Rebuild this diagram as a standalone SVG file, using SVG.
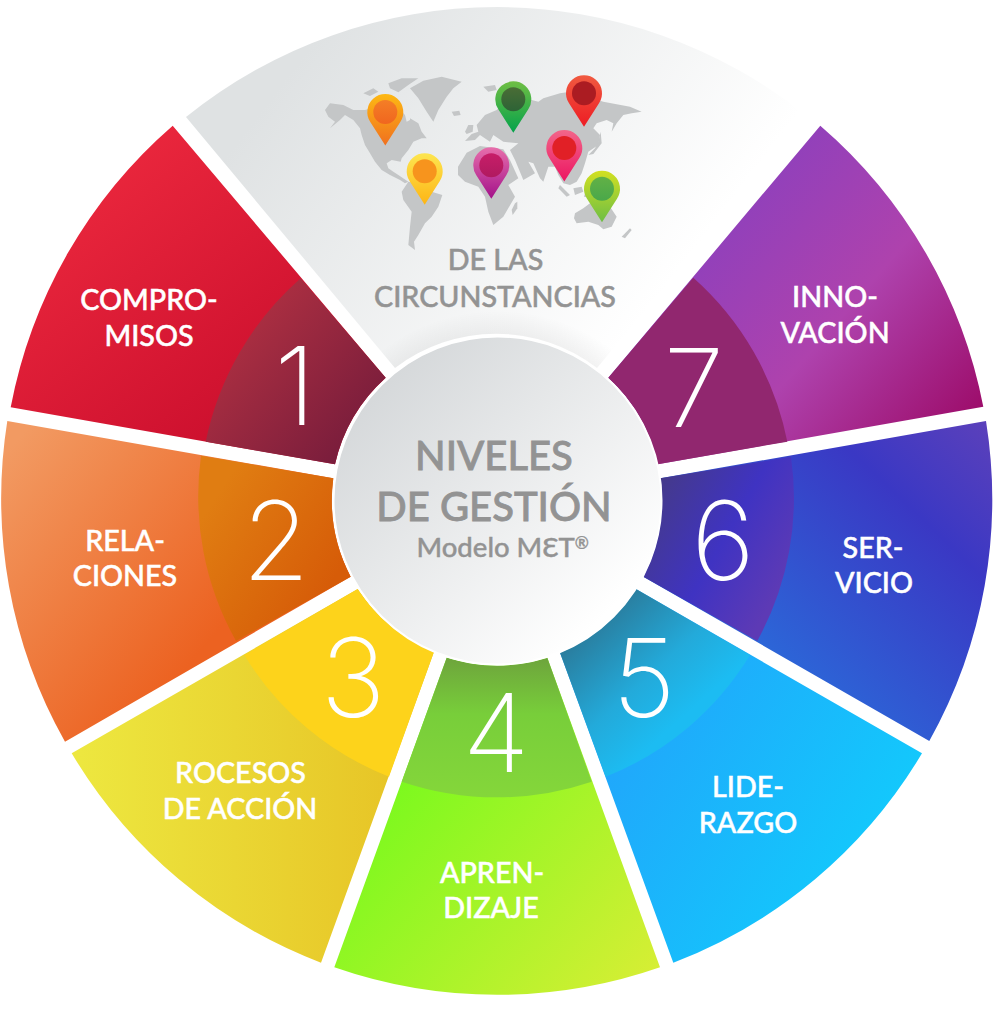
<svg xmlns="http://www.w3.org/2000/svg" width="1000" height="1009" viewBox="0 0 1000 1009">
<style>
text{font-family:Lato,"Liberation Sans","DejaVu Sans",sans-serif;text-anchor:middle}
.l{font-size:28.700px;font-weight:500;fill:#fff;stroke:#fff;stroke-width:.5px}
.g{font-size:28.700px;font-weight:500;fill:#939393;stroke:#939393;stroke-width:.5px}
.t{font-size:40px;font-weight:500;fill:#939393;stroke:#939393;stroke-width:.8px}
.m{font-size:27.500px;font-weight:500;fill:#939393;stroke:#939393;stroke-width:.4px;text-anchor:start}
.n{font-family:Inter,"Liberation Sans",sans-serif;font-size:109px;font-weight:150;fill:#fff}
.map path{fill:#c4c6c7}
</style>
<defs>
<linearGradient id="a1" gradientUnits="userSpaceOnUse" x1="110" y1="170" x2="310" y2="430"><stop offset="0" stop-color="#e9263c"/><stop offset="1" stop-color="#c80c2c"/></linearGradient>
<linearGradient id="b1" gradientUnits="userSpaceOnUse" x1="240" y1="340" x2="370" y2="450"><stop offset="0" stop-color="#a92e41"/><stop offset="1" stop-color="#741b3b"/></linearGradient>
<linearGradient id="a2" gradientUnits="userSpaceOnUse" x1="0" y1="460" x2="210" y2="640"><stop offset="0" stop-color="#f29a62"/><stop offset="1" stop-color="#ec6221"/></linearGradient>
<linearGradient id="b2" gradientUnits="userSpaceOnUse" x1="220" y1="490" x2="340" y2="570"><stop offset="0" stop-color="#e07d12"/><stop offset="1" stop-color="#d65c08"/></linearGradient>
<linearGradient id="a3" gradientUnits="userSpaceOnUse" x1="80" y1="0" x2="390" y2="0"><stop offset="0" stop-color="#ede73f"/><stop offset="1" stop-color="#e7c527"/></linearGradient>
<linearGradient id="a4" gradientUnits="userSpaceOnUse" x1="390" y1="790" x2="640" y2="1000"><stop offset="0" stop-color="#7cf91e"/><stop offset="1" stop-color="#d8ee35"/></linearGradient>
<linearGradient id="b4" gradientUnits="userSpaceOnUse" x1="0" y1="660" x2="0" y2="795"><stop offset="0" stop-color="#6ea63c"/><stop offset=".4" stop-color="#78ce3a"/><stop offset="1" stop-color="#84d63a"/></linearGradient>
<linearGradient id="a5" gradientUnits="userSpaceOnUse" x1="640" y1="720" x2="860" y2="860"><stop offset="0" stop-color="#20a8fb"/><stop offset="1" stop-color="#13c8fc"/></linearGradient>
<linearGradient id="b5" gradientUnits="userSpaceOnUse" x1="590" y1="620" x2="680" y2="720"><stop offset="0" stop-color="#2a7a9a"/><stop offset=".6" stop-color="#23aada"/><stop offset="1" stop-color="#1cbcf2"/></linearGradient>
<linearGradient id="a6" gradientUnits="userSpaceOnUse" x1="770" y1="660" x2="990" y2="430"><stop offset="0" stop-color="#2c67d8"/><stop offset=".65" stop-color="#3a38c4"/><stop offset="1" stop-color="#5a40bb"/></linearGradient>
<linearGradient id="b6" gradientUnits="userSpaceOnUse" x1="650" y1="490" x2="790" y2="570"><stop offset="0" stop-color="#453a88"/><stop offset=".55" stop-color="#3f33c2"/><stop offset="1" stop-color="#5d3ab5"/></linearGradient>
<linearGradient id="a7" gradientUnits="userSpaceOnUse" x1="715" y1="195" x2="980" y2="425"><stop offset="0" stop-color="#8c40bd"/><stop offset=".5" stop-color="#ae42ad"/><stop offset="1" stop-color="#9c0a67"/></linearGradient>
<linearGradient id="top" gradientUnits="userSpaceOnUse" x1="300" y1="60" x2="640" y2="320"><stop offset="0" stop-color="#dfe2e3"/><stop offset="1" stop-color="#fff"/></linearGradient>
<linearGradient id="hub" gradientUnits="userSpaceOnUse" x1="370" y1="390" x2="600" y2="620"><stop offset="0" stop-color="#d5d8da"/><stop offset="1" stop-color="#fff"/></linearGradient>
<radialGradient id="glow" gradientUnits="userSpaceOnUse" cx="497.500" cy="500.500" r="190"><stop offset=".84" stop-color="#000" stop-opacity=".06"/><stop offset="1" stop-color="#000" stop-opacity="0"/></radialGradient>
<linearGradient id="pa" x1="0" y1="0" x2="0" y2="1"><stop offset="0" stop-color="#fdb813"/><stop offset="1" stop-color="#f0701f"/></linearGradient>
<linearGradient id="pb" x1="0" y1="0" x2="0" y2="1"><stop offset="0" stop-color="#fde54f"/><stop offset="1" stop-color="#fdb515"/></linearGradient>
<linearGradient id="pc" x1="0" y1="0" x2="0" y2="1"><stop offset="0" stop-color="#e76eab"/><stop offset="1" stop-color="#a3128a"/></linearGradient>
<linearGradient id="pd" x1="0" y1="0" x2="0" y2="1"><stop offset="0" stop-color="#6fbe44"/><stop offset="1" stop-color="#04a24b"/></linearGradient>
<linearGradient id="pe" x1="0" y1="0" x2="0" y2="1"><stop offset="0" stop-color="#f05a40"/><stop offset="1" stop-color="#ed1c24"/></linearGradient>
<linearGradient id="pf" x1="0" y1="0" x2="0" y2="1"><stop offset="0" stop-color="#f2668a"/><stop offset="1" stop-color="#ec1561"/></linearGradient>
<linearGradient id="pg" x1="0" y1="0" x2="0" y2="1"><stop offset="0" stop-color="#d2e021"/><stop offset="1" stop-color="#6dbe45"/></linearGradient>
<linearGradient id="ia" x1="0" y1="0" x2="0" y2="1"><stop offset="0" stop-color="#f47e26"/><stop offset="1" stop-color="#f0661f"/></linearGradient>
<linearGradient id="ic" x1="0" y1="0" x2="0" y2="1"><stop offset="0" stop-color="#c71e68"/><stop offset="1" stop-color="#b01a60"/></linearGradient>
<linearGradient id="id" x1="0" y1="0" x2="0" y2="1"><stop offset="0" stop-color="#4a6d36"/><stop offset="1" stop-color="#2d6336"/></linearGradient>
<linearGradient id="ig" x1="0" y1="0" x2="0" y2="1"><stop offset="0" stop-color="#62b146"/><stop offset="1" stop-color="#4aa84a"/></linearGradient>
<path id="pin" d="M0 33.500L-15 10A18 18 0 1 1 15 10Z"/>
</defs>

<g id="sector-top">
<path fill="url(#top)" d="M186 117A495 495 0 0 1 808 117L597 368A166 166 0 0 0 395 368Z"/>
<path fill="url(#glow)" d="M346.700 310H645.400L597 368A166 166 0 0 0 395 368Z"/>
<g class="map">
<g transform="translate(310 60) scale(.33333)">
<path d="M45 150L60 130L100 135L130 150L165 150L200 140L240 130L265 145L285 165L290 185L300 180L300 175L325 190L335 215L350 235L335 235L310 245L295 270L275 295L272 305L245 300L230 310L235 325L250 335L265 345L295 365L285 370L270 360L240 345L215 330L195 305L180 280L165 255L155 225L150 205L130 180L105 165L90 180L60 205L75 185L55 170Z"/>
<path d="M160 100L190 85L205 95L180 108ZM235 70L275 55L325 55L295 75L265 97L240 85ZM205 115L235 105L250 120L215 128Z"/>
<path d="M300 85L340 62L395 50L455 65L430 85L410 110L385 150L370 185L350 155L325 115Z"/>
<path d="M425 155L448 152L452 165L432 168Z"/>
<path d="M275 395L295 365L325 370L345 375L365 395L397 405L385 440L365 470L345 490L325 525L312 545L315 570L295 555L300 500L305 455L280 420Z"/>
</g>
<g transform="translate(460 60) scale(.33333)">
<path d="M15 243L35 222L55 215L50 195L75 165L110 150L145 120L215 120L235 125L250 115L300 100L330 95L385 110L430 125L510 140L545 155L515 160L490 165L470 190L455 215L460 190L440 180L410 190L400 205L420 225L415 255L385 275L375 310L365 340L350 365L330 375L310 370L295 345L285 320L265 320L250 365L240 355L220 310L205 305L225 340L190 360L165 300L150 270L175 250L130 245L100 225L90 245L60 225L45 240Z"/>
<path d="M-6 320L20 278L60 258L130 268L150 300L175 355L145 375L165 410L130 470L100 495L85 455L75 410L55 380L15 365L-6 345Z"/>
<path d="M165 430L172 425L172 445L158 465L155 450Z"/>
<path d="M345 460L370 445L390 430L425 430L450 440L470 470L455 500L430 508L415 495L385 485L350 490L342 475Z"/>
<path d="M300 375L330 405L320 410L295 385ZM340 385L365 380L370 395L345 405ZM375 400L410 408L405 416L372 410Z"/>
<path d="M485 530L510 505L515 510L495 535Z"/>
<path d="M15 215L25 195L40 195L38 215L20 222Z"/>
<path d="M385 285L405 265L415 245L422 215L425 250L400 282Z"/>
<path d="M70 80L105 75L110 90L85 95Z"/>
</g>
</g>
<g id="pin-a" transform="translate(385.300 112)"><use href="#pin" fill="url(#pa)"/><circle r="12" fill="url(#ia)"/></g>
<g id="pin-b" transform="translate(424.700 171.300)"><use href="#pin" fill="url(#pb)"/><circle r="12" fill="#f7941d"/></g>
<g id="pin-c" transform="translate(491.300 165.300)"><use href="#pin" fill="url(#pc)"/><circle r="12" fill="url(#ic)"/></g>
<g id="pin-d" transform="translate(513.300 99.300)"><use href="#pin" fill="url(#pd)"/><circle r="12" fill="url(#id)"/></g>
<g id="pin-e" transform="translate(584 93.300)"><use href="#pin" fill="url(#pe)"/><circle r="12" fill="#ab1c22"/></g>
<g id="pin-f" transform="translate(564.300 148)"><use href="#pin" fill="url(#pf)"/><circle r="12" fill="#e12026"/></g>
<g id="pin-g" transform="translate(602 188.700)"><use href="#pin" fill="url(#pg)"/><circle r="12" fill="url(#ig)"/></g>
<text class="g" x="495.500" y="270">DE LAS</text>
<text class="g" x="495" y="306.500">CIRCUNSTANCIAS</text>
</g>

<g id="sector-1">
<path fill="url(#a1)" d="M172.700 125.700A495 495 0 0 0 10.700 407.300L335 464.300A166 166 0 0 1 385.700 377.700Z"/>
<path fill="url(#b1)" d="M300.700 278.300A296 296 0 0 0 205.700 441.700L335 464.300A166 166 0 0 1 385.700 377.700Z"/>
<text class="l" x="149" y="310">COMPRO-</text><text class="l" x="149" y="346">MISOS</text>
<text class="n" x="295" y="425">1</text>
</g>
<g id="sector-2">
<path fill="url(#a2)" d="M7.300 421A495 495 0 0 0 65 741.700L350.700 576.700A166 166 0 0 1 333.300 478.300Z"/>
<path fill="url(#b2)" d="M201 455.700A296 296 0 0 0 236 641L350.700 576.700A166 166 0 0 1 333.300 478.300Z"/>
<text class="l" x="125" y="551">RELA-</text><text class="l" x="125" y="586">CIONES</text>
<text class="n" x="276" y="580">2</text>
</g>
<g id="sector-3">
<path fill="url(#a3)" d="M71.700 753.300A495 495 0 0 0 321 962.700L434 651.700A166 166 0 0 1 357.700 589Z"/>
<path fill="#fdd31b" d="M244.300 655A296 296 0 0 0 389 776.700L434 651.700A166 166 0 0 1 357.700 589Z"/>
<text class="l" x="240.500" y="782.500">ROCESOS</text><text class="l" x="240" y="819">DE ACCIÓN</text>
<text class="n" x="353" y="716.500">3</text>
</g>
<g id="sector-4">
<path fill="url(#a4)" d="M334.300 967.300A495 495 0 0 0 660 967.300L547.300 657.700A166 166 0 0 1 446.700 657.700Z"/>
<path fill="url(#b4)" d="M401.700 781.700A296 296 0 0 0 591.700 781.700L547.300 657.700A166 166 0 0 1 446.700 657.700Z"/>
<text class="l" x="492" y="882.500">APREN-</text><text class="l" x="491" y="918">DIZAJE</text>
<text class="n" x="496" y="771.500">4</text>
</g>
<g id="sector-5">
<path fill="url(#a5)" d="M673.300 962.700A495 495 0 0 0 922 753.300L636 589A166 166 0 0 1 560 652.700Z"/>
<path fill="url(#b5)" d="M605.700 776.700A296 296 0 0 0 750 655L636 589A166 166 0 0 1 560 652.700Z"/>
<text class="l" x="748" y="797">LIDE-</text><text class="l" x="748" y="833">RAZGO</text>
<text class="n" x="644" y="717">5</text>
</g>
<g id="sector-6">
<path fill="url(#a6)" d="M929.300 741A495 495 0 0 0 986 421L660.300 478.300A166 166 0 0 1 643.300 576.700Z"/>
<path fill="url(#b6)" d="M757.300 641A296 296 0 0 0 791 456.700L660.300 478.300A166 166 0 0 1 643.300 576.700Z"/>
<text class="l" x="873" y="558">SER-</text><text class="l" x="874" y="593">VICIO</text>
<text class="n" x="723" y="580">6</text>
</g>
<g id="sector-7">
<path fill="url(#a7)" d="M983.300 406.700A495 495 0 0 0 820.300 125.700L608.300 377.700A166 166 0 0 1 657.700 464.300Z"/>
<path fill="#91276f" d="M787.300 441.700A296 296 0 0 0 693.300 277.700L608.300 377.700A166 166 0 0 1 657.700 464.300Z"/>
<text class="l" x="835" y="307">INNO-</text><text class="l" x="835" y="343">VACIÓN</text>
<text class="n" x="694" y="426.500">7</text>
</g>

<g id="hub-node">
<circle cx="497.500" cy="500.500" r="164" fill="url(#hub)" stroke="#fff" stroke-width="2"/>
<text class="t" x="494" y="470">NIVELES</text>
<text class="t" x="494" y="520.500">DE GESTIÓN</text>
<text class="m" x="416.500" y="557">Modelo MƐT<tspan font-size="17" dy="-8">®</tspan></text>
</g>
</svg>
